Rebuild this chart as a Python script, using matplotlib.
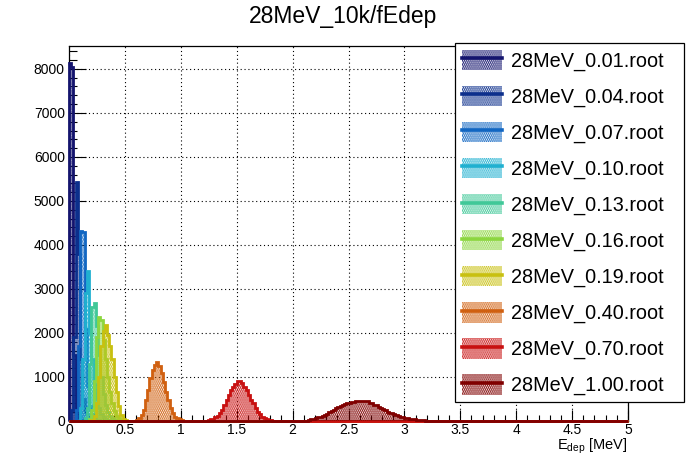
import numpy as np
import matplotlib
matplotlib.use("Agg")
import matplotlib.pyplot as plt
from matplotlib.patches import Patch
from matplotlib.lines import Line2D
from matplotlib.ticker import MultipleLocator

plt.rcParams['font.family'] = ['Liberation Sans', 'DejaVu Sans']
plt.rcParams['mathtext.fontset'] = 'custom'
plt.rcParams['mathtext.rm'] = 'Liberation Sans'
plt.rcParams['hatch.linewidth'] = 1.2

# histogram binning: 250 bins of 0.02 MeV from 0 to 5 MeV
n_bins = 250
e_min, e_max = 0.0, 5.0

labels = ['28MeV_0.01.root', '28MeV_0.04.root', '28MeV_0.07.root', '28MeV_0.10.root',
          '28MeV_0.13.root', '28MeV_0.16.root', '28MeV_0.19.root', '28MeV_0.40.root',
          '28MeV_0.70.root', '28MeV_1.00.root']
colors = ['#14146e', '#0c2f8c', '#1166c2', '#20b0d0', '#40c898',
          '#8cd640', '#c8c010', '#d06010', '#c81010', '#800000']

# first non-empty bin of each histogram, then the bin contents
start_bins = [0, 1, 3, 5, 7, 9, 10, 29, 60, 107]
h_001 = [8130, 8050, 1500, 300, 80, 30, 12, 5]
h_004 = [250, 1900, 5420, 3800, 1400, 500, 200, 90, 40, 15, 6]
h_007 = [250, 1700, 4320, 4290, 2100, 800, 330, 150, 70, 30, 12, 5]
h_010 = [300, 1400, 2900, 3410, 2000, 1400, 850, 500, 290, 160, 85, 40, 18, 7]
h_013 = [60, 300, 1300, 2600, 2670, 2150, 1500, 1000, 620, 360, 200, 110, 60, 30, 14, 6]
h_016 = [40, 250, 900, 1900, 2360, 2300, 1850, 1400, 1000, 650, 400, 230, 120, 60, 28, 12, 5]
h_019 = [30, 120, 400, 1000, 1700, 2050, 2180, 1950, 1700, 1400, 1000, 650, 330, 140, 50, 20, 8]
h_040 = [10, 30, 70, 136, 250, 477, 705, 970, 1160, 1273, 1348, 1250, 1083, 894, 667,
         477, 288, 174, 98, 60, 35, 20, 10, 5]
h_070 = [5, 10, 20, 35, 55, 80, 120, 190, 250, 364, 477, 590, 705, 780, 840, 909, 905,
         860, 780, 700, 600, 480, 400, 290, 210, 150, 100, 65, 40, 25, 15, 8, 4]
h_100 = [20, 38, 50, 70, 84, 100, 120, 140, 170, 200, 235, 255, 290, 315, 340, 365, 390,
         405, 415, 425, 435, 455, 462, 465, 462, 460, 455, 420, 410, 370, 360, 320, 305,
         270, 250, 215, 190, 175, 150, 135, 115, 100, 85, 70, 60, 50, 40, 35, 28, 22, 18,
         14, 11, 9, 7, 5, 4, 3, 2, 2, 1]
contents = [h_001, h_004, h_007, h_010, h_013, h_016, h_019, h_040, h_070, h_100]

edges = np.linspace(e_min, e_max, n_bins + 1)

fig = plt.figure(figsize=(6.98, 4.68), dpi=100)
ax = fig.add_axes([69 / 698, 47 / 468, 559 / 698, 375 / 468])

hatch = '........'
handles = []
for i, (start, vals) in enumerate(zip(start_bins, contents)):
    h = np.zeros(n_bins)
    h[start:start + len(vals)] = vals
    c = colors[i]
    ax.stairs(h, edges, fill=True, facecolor='none', edgecolor=c,
              hatch=hatch, linewidth=0, zorder=2 + 2 * i)
    ax.stairs(h, edges, color=c, linewidth=2.0, zorder=3 + 2 * i, clip_on=False)
    handles.append((Patch(facecolor='none', edgecolor=c, hatch=hatch, linewidth=0),
                    Line2D([], [], color=c, linewidth=2.6)))

ax.set_xlim(e_min, e_max)
ax.set_ylim(0, 8520)
ax.xaxis.set_minor_locator(MultipleLocator(0.1))
ax.yaxis.set_major_locator(MultipleLocator(1000))
ax.yaxis.set_minor_locator(MultipleLocator(200))
ax.set_xticks([0, 0.5, 1, 1.5, 2, 2.5, 3, 3.5, 4, 4.5, 5])
ax.set_xticklabels(['0', '0.5', '1', '1.5', '2', '2.5', '3', '3.5', '4', '4.5', '5'])
ax.tick_params(axis='both', which='both', direction='in', top=False, right=False,
               labelsize=10, width=0.8)
ax.tick_params(axis='y', which='major', length=12, pad=3)
ax.tick_params(axis='y', which='minor', length=6)
ax.tick_params(axis='x', which='major', length=8, pad=1.5)
ax.tick_params(axis='x', which='minor', length=4)
ax.grid(True, which='major', color='black', linestyle=(0, (1, 2.5)), linewidth=0.8)
ax.set_axisbelow(True)
for s in ax.spines.values():
    s.set_linewidth(0.9)

fig.text(343 / 698, 1 - 17 / 468, '28MeV_10k/fEdep', ha='center', va='center', fontsize=16.5)
fig.text(628 / 698, 1 - 449 / 468, r'E$_{\mathrm{dep}}$ [MeV]', ha='right', va='baseline',
         fontsize=10.5)

leg = fig.legend(handles, labels, loc='upper left',
                 bbox_to_anchor=(455 / 698, 1 - 43 / 468, 229 / 698, 0), mode='expand',
                 borderaxespad=0, fontsize=14.3, handlelength=2.0, handleheight=1.2,
                 handletextpad=0.45, labelspacing=0.75, borderpad=0.35,
                 fancybox=False, framealpha=1, edgecolor='black')
leg.get_frame().set_linewidth(0.9)
leg.set_zorder(50)

fig.savefig('out.png', dpi=100)
